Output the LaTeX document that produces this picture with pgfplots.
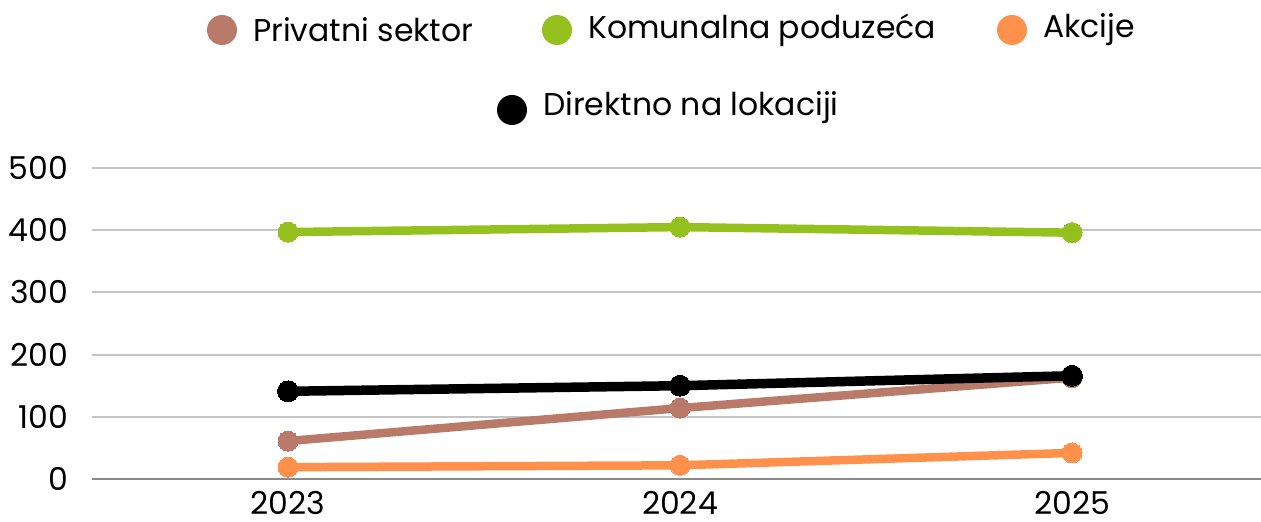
\documentclass[border=0pt]{standalone}
\usepackage{fontspec}
\setmainfont{Poppins}
\usepackage{pgfplots}
\pgfplotsset{compat=1.18}
\definecolor{cbrown}{HTML}{B97A6A}
\definecolor{cgreen}{HTML}{95C11F}
\definecolor{corange}{HTML}{FF914D}
\definecolor{cgrid}{HTML}{C4C4C4}
\definecolor{caxis}{HTML}{8A8A8A}
\begin{document}
\begin{tikzpicture}[x=1pt,y=1pt]
\useasboundingbox (0,0) rectangle (1261,522);
\fontsize{31.5}{36}\selectfont
\begin{axis}[
  at={(92pt,43pt)}, anchor=south west,
  width=1176pt, height=311pt, scale only axis,
  xmin=-0.5, xmax=2.5, ymin=0, ymax=500,
  xtick={0,1,2}, xticklabels={2023,2024,2025},
  ytick={0,100,200,300,400,500},
  axis x line=bottom, axis y line=left,
  x axis line style={-, draw=caxis, line width=2pt},
  y axis line style={draw=none},
  major tick length=0pt,
  ymajorgrids, grid style={draw=cgrid, line width=2pt},
  /pgf/number format/assume math mode=true,
  ticklabel style={font=\fontsize{31.5}{36}\selectfont},
  yticklabel style={xshift=-13pt},
  xticklabel style={inner sep=0pt, yshift=-12pt},
  clip=false,
]
\addplot[cbrown, line width=8.5pt, mark=*, mark size=10pt, mark options={line width=0pt}] coordinates {(0,61) (1,114) (2,163)};
\addplot[cgreen, line width=8.5pt, mark=*, mark size=10pt, mark options={line width=0pt}] coordinates {(0,397) (1,405) (2,396)};
\addplot[corange, line width=8.5pt, mark=*, mark size=10pt, mark options={line width=0pt}] coordinates {(0,19) (1,22) (2,42)};
\addplot[black, line width=9.5pt, mark=*, mark size=10.5pt, mark options={line width=0pt}] coordinates {(0,141) (1,150) (2,166)};
\end{axis}
\fill[cbrown] (222,492) circle (15);
\node[anchor=west, inner sep=0pt] at (253,492) {Privatni sektor};
\fill[cgreen] (557,492) circle (15);
\node[anchor=west, inner sep=0pt] at (588,492) {Komunalna poduzeća};
\fill[corange] (1012,492) circle (15);
\node[anchor=west, inner sep=0pt] at (1043,492) {Akcije};
\fill[black] (512,412) circle (15);
\node[anchor=west, inner sep=0pt] at (543,414) {Direktno na lokaciji};
\end{tikzpicture}
\end{document}
